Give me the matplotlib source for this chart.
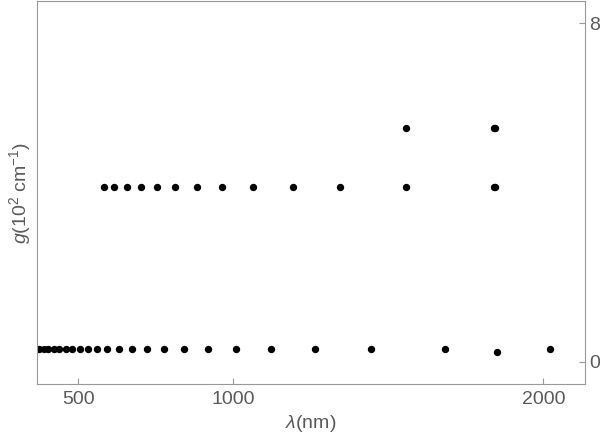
import matplotlib
matplotlib.use("Agg")
import matplotlib.pyplot as plt

# lower band (g ~ 0.3)
low_wl = [374, 389, 404, 421, 439, 459, 481, 505, 532, 561, 594, 631, 673,
          721, 777, 842, 918, 1010, 1122, 1262, 1443, 1683, 2020]
low_g = [0.31] * len(low_wl)
# single slightly lower point
odd_wl = [1851]
odd_g = [0.23]
# middle band (g ~ 4.1)
mid_wl = [582, 616, 657, 701, 753, 812, 882, 965, 1065, 1191, 1345, 1558, 1839, 1843]
mid_g = [4.13] * len(mid_wl)
# upper band (g ~ 5.5)
up_wl = [1558, 1839, 1843]
up_g = [5.52] * len(up_wl)

xticks = [500, 1000, 2000]
yticks = [0, 8]

plt.rcParams['font.family'] = ['Liberation Sans', 'DejaVu Sans']
plt.rcParams['mathtext.fontset'] = 'custom'
plt.rcParams['mathtext.rm'] = 'Liberation Sans'
plt.rcParams['mathtext.it'] = 'Liberation Sans:italic'

grey = '#999999'
txt = '#5a5a5a'

fig = plt.figure(figsize=(6, 4.42), dpi=100)
ax = fig.add_axes([37 / 600, 58 / 442, 548 / 600, 383 / 442])

for xs, ys in [(low_wl, low_g), (odd_wl, odd_g), (mid_wl, mid_g), (up_wl, up_g)]:
    ax.plot(xs, ys, 'o', color='black', ms=5.3, mew=0)

ax.set_xlim(367, 2134)
ax.set_ylim(-0.52, 8.53)
ax.set_xticks(xticks)
ax.set_yticks(yticks)
ax.yaxis.tick_right()
ax.tick_params(direction='in', length=4, color=grey, labelcolor=txt, labelsize=14)
ax.tick_params(axis='x', pad=5)
ax.tick_params(axis='y', pad=3)
for s in ax.spines.values():
    s.set_color(grey)

ax.set_xlabel(r'$\lambda$(nm)', color=txt, fontsize=14, labelpad=4)
ax.set_ylabel(r'$g$(10$^2$ cm$^{-1}$)', color=txt, fontsize=14, labelpad=3)
ax.yaxis.set_label_position('left')

fig.savefig('out.png', dpi=100)
